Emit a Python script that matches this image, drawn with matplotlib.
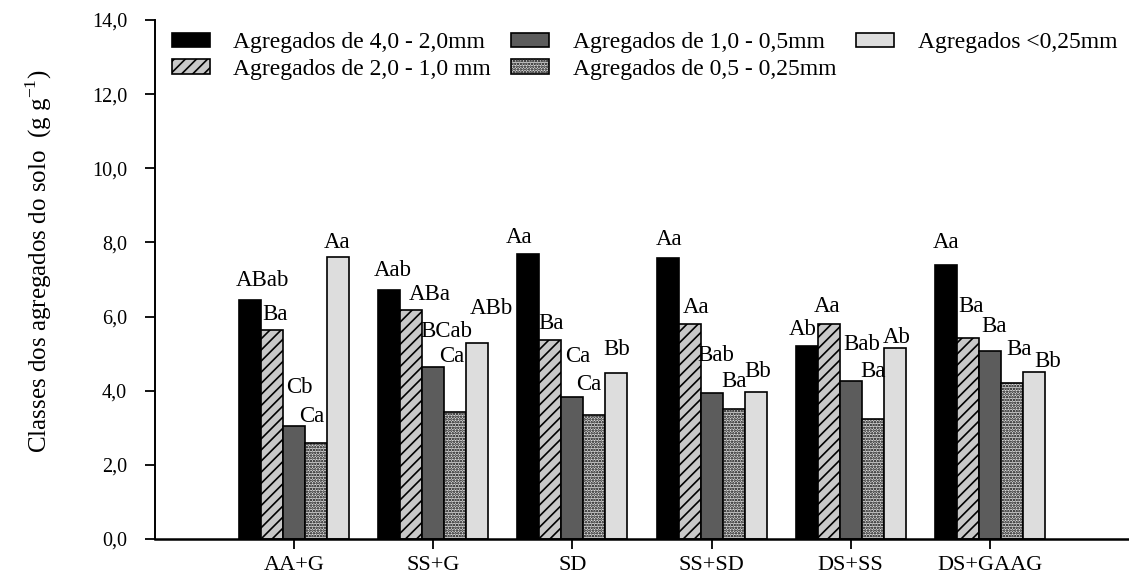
import numpy as np
import matplotlib
matplotlib.use("Agg")
import matplotlib.pyplot as plt

plt.rcParams['font.family'] = ['Liberation Serif', 'DejaVu Serif']
plt.rcParams['mathtext.fontset'] = 'custom'
plt.rcParams['mathtext.rm'] = 'Liberation Serif'
plt.rcParams['hatch.linewidth'] = 1.2

tratamentos = ['AA+G', 'SS+G', 'SD', 'SS+SD', 'DS+SS', 'DS+GAAG']

classes = ['Agregados de 4,0 - 2,0mm', 'Agregados de 2,0 - 1,0 mm',
           'Agregados de 1,0 - 0,5mm', 'Agregados de 0,5 - 0,25mm',
           'Agregados <0,25mm']

ag_4_2 = [6.46, 6.73, 7.70, 7.59, 5.20, 7.38]
ag_2_1 = [5.65, 6.19, 5.36, 5.79, 5.79, 5.41]
ag_1_05 = [3.04, 4.63, 3.82, 3.93, 4.25, 5.06]
ag_05_025 = [2.58, 3.42, 3.34, 3.50, 3.23, 4.22]
ag_025 = [7.62, 5.28, 4.47, 3.96, 5.14, 4.50]

letras_4_2 = ['ABab', 'Aab', 'Aa', 'Aa', 'Ab', 'Aa']
letras_2_1 = ['Ba', 'ABa', 'Ba', 'Aa', 'Aa', 'Ba']
letras_1_05 = ['Cb', 'BCab', 'Ca', 'Bab', 'Bab', 'Ba']
letras_05_025 = ['Ca', 'Ca', 'Ca', 'Ba', 'Ba', 'Ba']
letras_025 = ['Aa', 'ABb', 'Bb', 'Bb', 'Ab', 'Bb']

series = [ag_4_2, ag_2_1, ag_1_05, ag_05_025, ag_025]
letras = [letras_4_2, letras_2_1, letras_1_05, letras_05_025, letras_025]

# bar styles: (face, hatch)
estilos = [('black', None), ('#c8c8c8', '///'), ('#5c5c5c', None),
           ('#dadada', '......'), ('#dddddd', None)]

# label offsets in pixels (dx, dy) from the top centre of each bar
desloc = [
    [(12, 19), (3, 19), (-9, 16), (1, 18), (-4, 17), (0, 23)],
    [(3, 15), (18, 15), (1, 17), (7, 17), (-2, 18), (3, 32)],
    [(5, 39), (13, 36), (5, 41), (4, 38), (11, 37), (4, 25)],
    [(-4, 27), (-4, 56), (-6, 31), (0, 28), (0, 48), (7, 33)],
    [(-1, 14), (14, 35), (0, 24), (2, 21), (2, 11), (14, 11)],
]

fig = plt.figure(figsize=(11.29, 5.78), dpi=100)
ax = fig.add_axes([155 / 1129, 39 / 578, 974 / 1129, 519 / 578])

x = np.arange(1, len(tratamentos) + 1)
w = 0.158
for i, (vals, (fc, hatch)) in enumerate(zip(series, estilos)):
    pos = x + (i - 2) * w
    bars = ax.bar(pos, vals, width=w, color=fc, edgecolor='black',
                  linewidth=1.2, hatch=hatch, label=classes[i])
    for b, txt, (dx, dy) in zip(bars, letras[i], desloc[i]):
        ax.annotate(txt, (b.get_x() + b.get_width() / 2, b.get_height()),
                    xytext=(dx, dy), textcoords='offset pixels',
                    ha='center', va='center', fontsize=16.5)

ax.set_xlim(0, 7)
ax.set_ylim(0, 14)
yt = np.arange(0, 14.1, 2)
ax.set_yticks(yt)
ax.set_yticklabels([f'{v:.1f}'.replace('.', ',') for v in yt], fontsize=14.5)
ax.set_xticks(x)
ax.set_xticklabels(tratamentos, fontsize=16)
ax.tick_params(direction='out', length=7, width=1.3)
ax.tick_params(axis='y', pad=13)
ax.tick_params(axis='x', pad=5)
for s in ['top', 'right']:
    ax.spines[s].set_visible(False)
ax.spines['left'].set_linewidth(1.4)
ax.spines['bottom'].set_linewidth(1.8)

ax.set_ylabel(r'Classes dos agregados do solo  (g g$^{\mathregular{-1}}$)',
              fontsize=18)
ax.yaxis.set_label_coords(-0.104, 0.535)

ax.legend(ncol=3, frameon=False, fontsize=17, loc='upper left',
          bbox_to_anchor=(172 / 1129, 1 - 32 / 578), bbox_transform=fig.transFigure,
          handlelength=1.6, handleheight=0.55, handletextpad=1.0,
          columnspacing=0.85, labelspacing=0.25, borderpad=0, borderaxespad=0)

fig.savefig('out.png', dpi=100)
